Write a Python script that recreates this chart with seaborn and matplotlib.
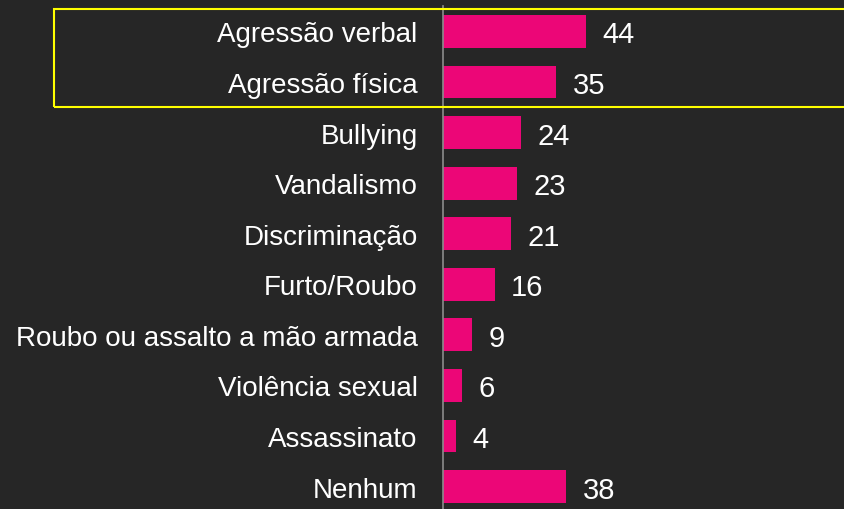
import matplotlib
matplotlib.use("Agg")
import matplotlib.pyplot as plt
from matplotlib.patches import Rectangle
import numpy as np
import pandas as pd
import seaborn as sns

categories = [
    "Agressão verbal",
    "Agressão física",
    "Bullying",
    "Vandalismo",
    "Discriminação",
    "Furto/Roubo",
    "Roubo ou assalto a mão armada",
    "Violência sexual",
    "Assassinato",
    "Nenhum",
]
values = [44, 35, 24, 23, 21, 16, 9, 6, 4, 38]

BG = "#262626"
BAR = "#EC0677"
AXIS = "#8C8C8C"

sns.set_theme(style="white")
plt.rcParams["font.family"] = ["Liberation Sans", "DejaVu Sans"]

df = pd.DataFrame({"categoria": categories, "valor": values})

fig = plt.figure(figsize=(8.44, 5.10), dpi=100, facecolor=BG)
ax = fig.add_axes([442.5 / 844, -2.8 / 510, 1 - 442.5 / 844, 505.6 / 510])
ax.set_facecolor(BG)

sns.barplot(data=df, y="categoria", x="valor", color=BAR, width=0.65,
            saturation=1, orient="h", edgecolor=BAR, linewidth=0, ax=ax)

ax.set_xlim(0, (844 - 442.5) / 3.25)
ax.set_ylim(len(categories) - 0.5, -0.5)

for c in ax.containers:
    texts = ax.bar_label(c, labels=[str(v) for v in values], padding=12,
                         color="white", fontsize=21)
    for t in texts:
        t.set_va("center_baseline")

for s in ["top", "right", "bottom"]:
    ax.spines[s].set_visible(False)
ax.spines["left"].set_color(AXIS)
ax.spines["left"].set_linewidth(1.2)

ax.set_xticks([])
ax.set_xlabel("")
ax.set_ylabel("")
ax.tick_params(axis="y", which="major", length=0, pad=18, labelsize=20,
               labelcolor="white")
ax.set_yticks(np.arange(-0.5, len(categories), 1.0), minor=True)
ax.tick_params(axis="y", which="minor", length=6, width=1.2, color=AXIS,
               direction="out")

# highlight box around the first two categories
fig.add_artist(Rectangle((53.5 / 844, (510 - 108) / 510),
                         1.05, (108 - 9.5) / 510,
                         transform=fig.transFigure, fill=False,
                         edgecolor="#FFFF00", linewidth=1.5, clip_on=False))

fig.savefig("out.png", dpi=100, facecolor=BG)
